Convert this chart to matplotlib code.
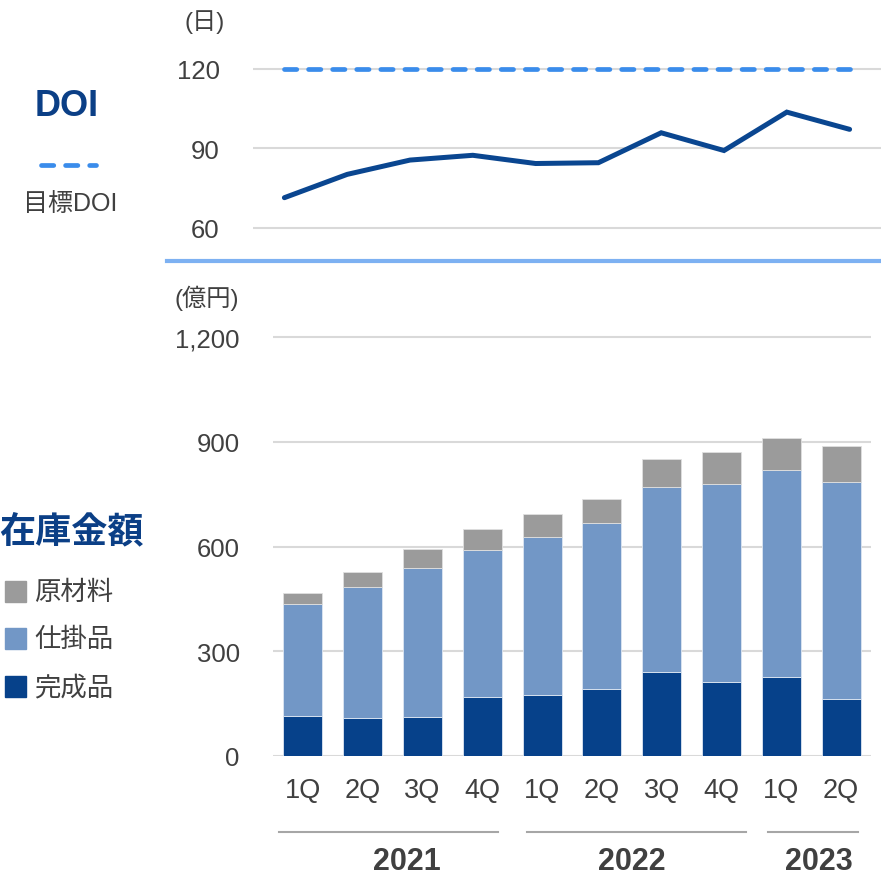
import matplotlib
matplotlib.use("Agg")
import matplotlib.pyplot as plt
from matplotlib.lines import Line2D
from matplotlib.patches import Rectangle

plt.rcParams['font.family'] = ['Liberation Sans', 'Noto Sans CJK JP', 'DejaVu Sans']

# ---- data ----
quarters = ["1Q", "2Q", "3Q", "4Q", "1Q", "2Q", "3Q", "4Q", "1Q", "2Q"]
years = ["2021", "2022", "2023"]
doi = [71.4, 80.2, 85.6, 87.4, 84.3, 84.6, 95.9, 89.2, 103.7, 97.2]
doi_target = [120] * 10
finished = [114, 109, 112, 169, 176, 192, 241, 212, 227, 164]      # 完成品
wip = [321, 375, 427, 422, 452, 476, 529, 567, 591, 621]           # 仕掛品
raw = [33, 44, 53, 59, 65, 69, 81, 91, 94, 102]                    # 原材料
series_names = ["原材料", "仕掛品", "完成品"]
doi_ticks = [60, 90, 120]
inv_ticks = [0, 300, 600, 900, 1200]
inv_ticklabels = ["0", "300", "600", "900", "1,200"]

C_FIN = "#06418A"
C_WIP = "#7297C6"
C_RAW = "#9B9B9B"
C_LINE = "#0A4690"
C_TARGET = "#3A8CEB"
C_SEP = "#7DB1F2"
C_TEXT = "#404040"
C_GRID = "#D9D9D9"

W, H = 881, 879
fig = plt.figure(figsize=(W / 100, H / 100), dpi=100)


def px_axes(x0, y0, x1, y1):
    return fig.add_axes([x0 / W, 1 - y1 / H, (x1 - x0) / W, (y1 - y0) / H])


def fx(x):
    return x / W


def fy(y):
    return 1 - y / H


# ---- top DOI chart ----
ax1 = px_axes(253, 40, 881, 262)
x = list(range(len(doi)))
ax1.plot(x, doi_target, color=C_TARGET, lw=3.4, dashes=(2.6, 2.5),
         dash_capstyle='round', zorder=3)
ax1.plot(x, doi, color=C_LINE, lw=3.6, solid_capstyle='round',
         solid_joinstyle='miter', zorder=4)
ax1.set_xlim(-0.5, 9.5)
ax1.set_ylim(47.5, 131.3)
ax1.set_yticks(doi_ticks)
ax1.set_xticks([])
ax1.grid(axis='y', color=C_GRID, lw=1.5)
ax1.set_axisbelow(True)
for s in ax1.spines.values():
    s.set_visible(False)
ax1.tick_params(axis='y', length=0, pad=24, labelsize=18.5, labelcolor=C_TEXT)

fig.text(fx(205), fy(22), "(日)", ha='center', va='center', fontsize=17.5, color=C_TEXT)

# separator
fig.add_artist(Line2D([fx(167), fx(881)], [fy(262), fy(262)], color=C_SEP, lw=3.0))

# ---- bottom inventory chart ----
ax2 = px_axes(273, 330, 871, 757)
ax2.bar(x, finished, width=0.65, color=C_FIN, edgecolor='#DDE6F2', lw=0.6, zorder=3)
bottom2 = finished
ax2.bar(x, wip, width=0.65, bottom=bottom2, color=C_WIP, edgecolor='#DDE6F2', lw=0.6, zorder=3)
bottom3 = [a + b for a, b in zip(finished, wip)]
ax2.bar(x, raw, width=0.65, bottom=bottom3, color=C_RAW, edgecolor='#E0E0E0', lw=0.6, zorder=3)
ax2.set_xlim(-0.5, 9.5)
ax2.set_ylim(0, 1223)
ax2.set_yticks(inv_ticks)
ax2.set_yticklabels(inv_ticklabels)
ax2.set_xticks(x)
ax2.set_xticklabels(quarters)
ax2.grid(axis='y', color=C_GRID, lw=1.5)
ax2.set_axisbelow(True)
for s in ax2.spines.values():
    s.set_visible(False)
ax2.tick_params(axis='y', length=0, pad=24, labelsize=18.5, labelcolor=C_TEXT)
ax2.tick_params(axis='x', length=0, pad=15, labelsize=19.5, labelcolor=C_TEXT)

fig.text(fx(207), fy(298), "(億円)", ha='center', va='center', fontsize=17.5, color=C_TEXT)

# year brackets
year_spans = [(279, 498, 407), (527, 746, 632), (768, 858, 819)]
for yr, (a, b, c) in zip(years, year_spans):
    fig.add_artist(Line2D([fx(a), fx(b)], [fy(833), fy(833)], color="#A6A6A6", lw=1.5))
    fig.text(fx(c), fy(862), yr, ha='center', va='center', fontsize=22,
             fontweight='bold', color=C_TEXT)

# ---- left annotations ----
fig.text(fx(67), fy(107), "DOI", ha='center', va='center', fontsize=26,
         fontweight='bold', color="#0B3F86")
fig.add_artist(Line2D([fx(41), fx(96)], [fy(166), fy(166)], color=C_TARGET, lw=3.4,
                      dashes=(2.6, 2.5), dash_capstyle='round'))
fig.text(fx(70), fy(204), "目標DOI", ha='center', va='center', fontsize=18, color=C_TEXT)

fig.text(fx(71), fy(533), "在庫金額", ha='center', va='center', fontsize=26,
         fontweight='bold', color="#0B3F86")
legend_y = [593, 640, 688]
legend_c = [C_RAW, C_WIP, C_FIN]
for name, yy, col in zip(series_names, legend_y, legend_c):
    fig.add_artist(Rectangle((fx(5), fy(yy + 10)), fx(21), 21 / H, color=col,
                             transform=fig.transFigure))
    fig.text(fx(34), fy(yy), name, ha='left', va='center', fontsize=19, color=C_TEXT)

fig.savefig("out.png", dpi=100)
